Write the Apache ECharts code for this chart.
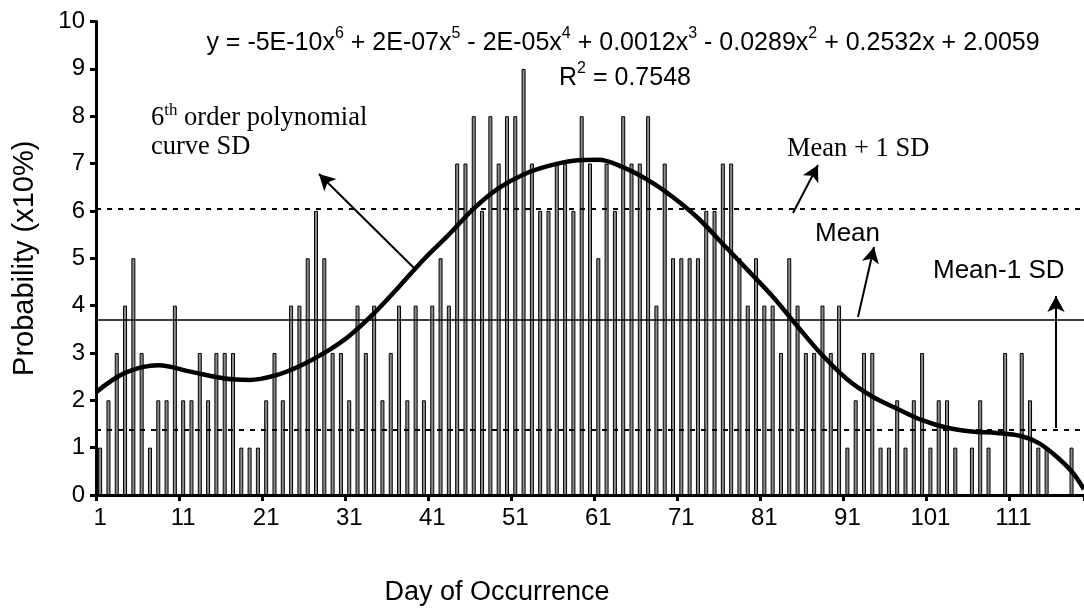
<!DOCTYPE html>
<html>
<head>
<meta charset="utf-8">
<script src="https://cdn.jsdelivr.net/npm/echarts@6/dist/echarts.min.js"></script>
<style>
  html, body { margin: 0; padding: 0; background: #fff; }
  #chart { width: 1084px; height: 611px; }
</style>
</head>
<body>
<div id="chart"></div>
<script>
// Day of occurrence categories 1..119
var days = [];
for (var d = 1; d <= 119; d++) days.push(String(d));

// Probability (x10%) per day
var probability = [
  1,2,3,4,5,3,1,2,2,4,
  2,2,3,2,3,3,3,1,1,1,
  2,3,2,4,4,5,6,5,3,3,
  2,4,3,4,2,3,4,2,4,2,
  4,5,4,7,7,8,6,8,7,8,
  8,9,7,6,6,7,7,6,8,7,
  5,7,6,8,7,7,8,4,7,5,
  5,5,5,6,6,7,7,5,4,5,
  4,4,3,5,4,3,3,4,3,4,
  1,2,3,3,1,1,2,1,2,3,
  1,2,2,1,0,1,2,1,0,3,
  0,3,2,1,1,0,0,1,0
];

// 6th order polynomial trend curve (day, value)
var curveDays = [0.5, 4, 8, 12, 16, 19, 22, 25, 28, 31, 34, 37, 40, 43, 46, 49, 52, 55, 58, 61, 64, 67, 70, 73, 76, 79, 82, 85, 88, 91, 94, 97, 100, 103, 106, 109, 112, 114, 116, 118, 119.5];
var curveValues = [2.17, 2.58, 2.74, 2.60, 2.46, 2.43, 2.52, 2.72, 3.00, 3.36, 3.84, 4.40, 4.98, 5.50, 6.05, 6.48, 6.77, 6.95, 7.06, 7.08, 6.92, 6.65, 6.29, 5.85, 5.30, 4.75, 4.19, 3.56, 2.95, 2.44, 2.08, 1.82, 1.58, 1.42, 1.34, 1.31, 1.24, 1.10, 0.84, 0.50, 0.12];

// Reference lines
var meanValue = 3.71;
var meanPlusSD = 6.04;
var meanMinusSD = 1.37;

var yTicks = [0,1,2,3,4,5,6,7,8,9,10];

var curveData = curveDays.map(function (x, i) { return [x, curveValues[i]]; });

var chart = echarts.init(document.getElementById('chart'), null, { renderer: 'canvas' });

var arial = 'Arial, "Liberation Sans", sans-serif';
var times = '"Times New Roman", "Liberation Serif", serif';

var option = {
  backgroundColor: '#ffffff',
  animation: false,
  grid: { left: 96, right: 0, top: 21.5, bottom: 114, containLabel: false },
  xAxis: [{
    type: 'category',
    data: days,
    boundaryGap: true,
    name: 'Day of Occurrence',
    nameLocation: 'middle',
    nameGap: 84,
    nameTextStyle: { fontFamily: arial, fontSize: 27, color: '#000', padding: [0, 186, 0, 0] },
    axisLine: { lineStyle: { color: '#000', width: 3 } },
    axisTick: { show: true, interval: 9, length: 6, inside: false, lineStyle: { color: '#000', width: 3 } },
    axisLabel: { interval: 9, margin: 11, fontFamily: arial, fontSize: 24, color: '#000' },
    splitLine: { show: false }
  }, {
    type: 'value',
    min: 0.5,
    max: 119.5,
    show: false
  }],
  yAxis: {
    type: 'value',
    min: yTicks[0],
    max: yTicks[yTicks.length - 1],
    interval: 1,
    name: 'Probability (x10%)',
    nameLocation: 'middle',
    nameGap: 57,
    nameRotate: 90,
    nameTextStyle: { fontFamily: arial, fontSize: 29, color: '#000' },
    axisLine: { show: true, lineStyle: { color: '#000', width: 3 } },
    axisTick: { show: true, length: 6, lineStyle: { color: '#000', width: 3 } },
    axisLabel: { margin: 11, fontFamily: arial, fontSize: 24, color: '#000' },
    splitLine: { show: false }
  },
  series: [{
    type: 'bar',
    data: probability,
    xAxisIndex: 0,
    barWidth: 4,
    itemStyle: { color: '#8c8c8c', borderColor: '#000', borderWidth: 1 },
    markLine: {
      silent: true,
      symbol: ['none', 'none'],
      label: { show: false },
      data: [
        { yAxis: meanValue, lineStyle: { color: '#000', width: 1.5, type: 'solid' } },
        { yAxis: meanPlusSD, lineStyle: { color: '#000', width: 2, type: [5, 6] } },
        { yAxis: meanMinusSD, lineStyle: { color: '#000', width: 2, type: [5, 6] } }
      ]
    },
    z: 2
  }, {
    type: 'line',
    xAxisIndex: 1,
    data: curveData,
    smooth: 0.35,
    showSymbol: false,
    lineStyle: { color: '#000', width: 4.5 },
    z: 5,
    markLine: {
      silent: true,
      symbol: ['none', 'arrow'],
      symbolSize: [13, 16],
      label: { show: false },
      lineStyle: { color: '#000', width: 2, type: 'solid' },
      data: [
        [{ x: 416, y: 270 }, { x: 319, y: 174 }],
        [{ x: 793, y: 213 }, { x: 818, y: 165 }],
        [{ x: 858, y: 317 }, { x: 874, y: 247 }],
        [{ x: 1056, y: 428 }, { x: 1056, y: 296 }]
      ]
    }
  }],
  graphic: [
    {
      type: 'text', x: 623, y: 41, z: 10,
      style: {
        align: 'center', verticalAlign: 'middle',
        text: '{m|y = -5E-10x}{s|6}{m| + 2E-07x}{s|5}{m| - 2E-05x}{s|4}{m| + 0.0012x}{s|3}{m| - 0.0289x}{s|2}{m| + 0.2532x + 2.0059}',
        rich: {
          m: { fontFamily: arial, fontSize: 25, lineHeight: 30, verticalAlign: 'bottom', fill: '#000' },
          s: { fontFamily: arial, fontSize: 16, lineHeight: 16, verticalAlign: 'top', fill: '#000' }
        }
      }
    },
    {
      type: 'text', x: 625, y: 76, z: 10,
      style: {
        align: 'center', verticalAlign: 'middle',
        text: '{m|R}{s|2}{m| = 0.7548}',
        rich: {
          m: { fontFamily: arial, fontSize: 25, lineHeight: 30, verticalAlign: 'bottom', fill: '#000' },
          s: { fontFamily: arial, fontSize: 16, lineHeight: 16, verticalAlign: 'top', fill: '#000' }
        }
      }
    },
    {
      type: 'text', x: 151, y: 117, z: 10,
      style: {
        align: 'left', verticalAlign: 'middle',
        text: '{m|6}{s|th}{m| order polynomial}',
        rich: {
          m: { fontFamily: times, fontSize: 26.5, lineHeight: 30, verticalAlign: 'bottom', fill: '#000' },
          s: { fontFamily: times, fontSize: 17, lineHeight: 17, verticalAlign: 'top', fill: '#000' }
        }
      }
    },
    {
      type: 'text', x: 151, y: 147, z: 10,
      style: { text: 'curve SD', font: '26.5px ' + times, fill: '#000', align: 'left', verticalAlign: 'middle' }
    },
    {
      type: 'text', x: 787, y: 149, z: 10,
      style: { text: 'Mean + 1 SD', font: '26.5px ' + times, fill: '#000', align: 'left', verticalAlign: 'middle' }
    },
    {
      type: 'text', x: 815, y: 234, z: 10,
      style: { text: 'Mean', font: '26px ' + arial, fill: '#000', align: 'left', verticalAlign: 'middle' }
    },
    {
      type: 'text', x: 933, y: 271, z: 10,
      style: { text: 'Mean-1 SD', font: '26px ' + arial, fill: '#000', align: 'left', verticalAlign: 'middle' }
    }
  ]
};

chart.setOption(option);
</script>
</body>
</html>
